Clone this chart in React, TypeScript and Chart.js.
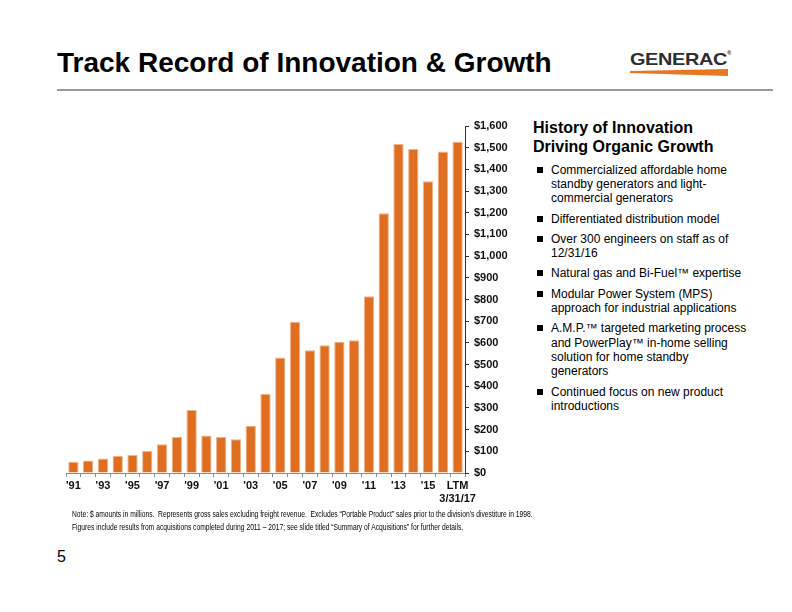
import React, { useEffect, useRef } from "react";
import { Chart, registerables } from "chart.js";

Chart.register(...registerables);

const categories = [
  "'91", "'92", "'93", "'94", "'95", "'96", "'97", "'98", "'99", "'00",
  "'01", "'02", "'03", "'04", "'05", "'06", "'07", "'08", "'09", "'10",
  "'11", "'12", "'13", "'14", "'15", "'16", "LTM",
];
const sales = [
  52, 58, 67, 80, 83, 101, 133, 166, 290, 173,
  166, 156, 218, 365, 533, 697, 566, 589, 605, 612,
  815, 1198, 1517, 1494, 1345, 1482, 1527,
];
const ltmSubLabel = "3/31/17";
const yMax = 1600;
const yStep = 100;

const bullets: string[][] = [
  ["Commercialized affordable home", "standby generators and light-", "commercial generators"],
  ["Differentiated distribution model"],
  ["Over 300 engineers on staff as of", "12/31/16"],
  ["Natural gas and Bi-Fuel\u2122 expertise"],
  ["Modular Power System (MPS)", "approach for industrial applications"],
  ["A.M.P.\u2122 targeted marketing process", "and PowerPlay\u2122 in-home selling", "solution for home standby", "generators"],
  ["Continued focus on new product", "introductions"],
];

const FONT = "'Liberation Sans', Arial, Helvetica, sans-serif";

function BarChart() {
  const ref = useRef<HTMLCanvasElement | null>(null);
  useEffect(() => {
    if (!ref.current) return;
    const chart = new Chart(ref.current, {
      type: "bar",
      data: {
        labels: categories,
        datasets: [
          {
            data: sales,
            backgroundColor: "#DF6E20",
            borderColor: "#F2B48A",
            borderWidth: { top: 1, left: 1, right: 1, bottom: 0 },
            borderSkipped: "bottom",
            categoryPercentage: 1,
            barPercentage: 0.7,
          },
        ],
      },
      options: {
        animation: false,
        responsive: false,
        maintainAspectRatio: false,
        layout: { padding: { left: 6, top: 16, right: 0, bottom: 0 } },
        plugins: { legend: { display: false }, tooltip: { enabled: false } },
        scales: {
          x: {
            offset: true,
            grid: {
              display: true,
              offset: true,
              drawOnChartArea: false,
              drawTicks: true,
              tickLength: 4,
              color: "#8c8c8c",
            },
            border: { display: true, color: "#8c8c8c", width: 1 },
            ticks: {
              autoSkip: false,
              maxRotation: 0,
              minRotation: 0,
              padding: 2,
              color: "#111",
              font: { family: FONT, size: 11, weight: "bold" },
              callback: (_v: any, i: number) => {
                if (i === categories.length - 1) return [categories[i], ltmSubLabel];
                return i % 2 === 0 ? categories[i] : "";
              },
            },
            afterFit: (s: any) => {
              s.height = 37;
            },
          },
          y: {
            position: "right",
            min: 0,
            max: yMax,
            grid: {
              display: true,
              drawOnChartArea: false,
              drawTicks: true,
              tickLength: 4,
              color: "#333",
            },
            border: { display: true, color: "#333", width: 1 },
            ticks: {
              stepSize: yStep,
              padding: 5,
              color: "#111",
              font: { family: FONT, size: 11, weight: "bold" },
              callback: (v: any) => "$" + Number(v).toLocaleString("en-US"),
            },
            afterFit: (s: any) => {
              s.width = 65;
            },
          },
        },
      },
    });
    return () => chart.destroy();
  }, []);
  return (
    <canvas
      ref={ref}
      width={470}
      height={400}
      style={{ position: "absolute", left: 60, top: 110, width: 470, height: 400 }}
    />
  );
}

export default function App() {
  return (
    <div
      style={{
        position: "absolute",
        left: 0,
        top: 0,
        width: 792,
        height: 612,
        background: "#fff",
        fontFamily: FONT,
        overflow: "hidden",
      }}
    >
      <div
        style={{
          position: "absolute",
          left: 57,
          top: 47,
          fontSize: 28,
          fontWeight: "bold",
          color: "#000",
          whiteSpace: "nowrap",
        }}
      >
        Track Record of Innovation &amp; Growth
      </div>
      <div style={{ position: "absolute", left: 57, top: 89, width: 716, height: 2, background: "#9a9a9a" }} />

      {/* logo */}
      <div
        style={{
          position: "absolute",
          left: 630,
          top: 50,
          fontSize: 17,
          fontWeight: "bold",
          color: "#2e2e2e",
          whiteSpace: "nowrap",
          transform: "scaleX(1.17)",
          transformOrigin: "left top",
          letterSpacing: -0.3,
        }}
      >
        GENERAC<span style={{ fontSize: 5, verticalAlign: "top" }}>®</span>
      </div>
      <svg style={{ position: "absolute", left: 629, top: 68 }} width={100} height={10}>
        <polygon points="1,3 99,1 99,8 1,5" fill="#E87722" />
      </svg>

      <BarChart />

      {/* right panel */}
      <div style={{ position: "absolute", left: 533, top: 118, fontSize: 16, fontWeight: "bold", lineHeight: "19px", color: "#000" }}>
        History of Innovation
        <br />
        Driving Organic Growth
      </div>
      <div style={{ position: "absolute", left: 537, top: 162.5, fontSize: 12, lineHeight: "14.4px", color: "#000" }}>
        {bullets.map((lines, i) => (
          <div key={i} style={{ position: "relative", paddingLeft: 14, marginBottom: 5.8 }}>
            <span style={{ position: "absolute", left: 0, top: 4, width: 6, height: 6, background: "#000" }} />
            {lines.map((l, j) => (
              <div key={j} style={{ whiteSpace: "nowrap" }}>{l}</div>
            ))}
          </div>
        ))}
      </div>

      {/* footnote */}
      <div
        style={{
          position: "absolute",
          left: 72,
          top: 508,
          fontSize: 9,
          lineHeight: "13px",
          color: "#000",
          whiteSpace: "nowrap",
          transform: "scaleX(0.745)",
          transformOrigin: "left top",
        }}
      >
        <div>
          Note: $ amounts in millions.&nbsp; Represents gross sales excluding freight revenue.&nbsp; Excludes {"\u201cPortable Product\u201d"} sales prior to the division{"\u2019"}s divestiture in 1998.
        </div>
        <div>
          Figures include results from acquisitions completed during 2011 {"\u2013"} 2017; see slide titled {"\u201cSummary of Acquisitions\u201d"} for further details.
        </div>
      </div>

      <div style={{ position: "absolute", left: 57, top: 548, fontSize: 16, color: "#000" }}>5</div>
    </div>
  );
}
